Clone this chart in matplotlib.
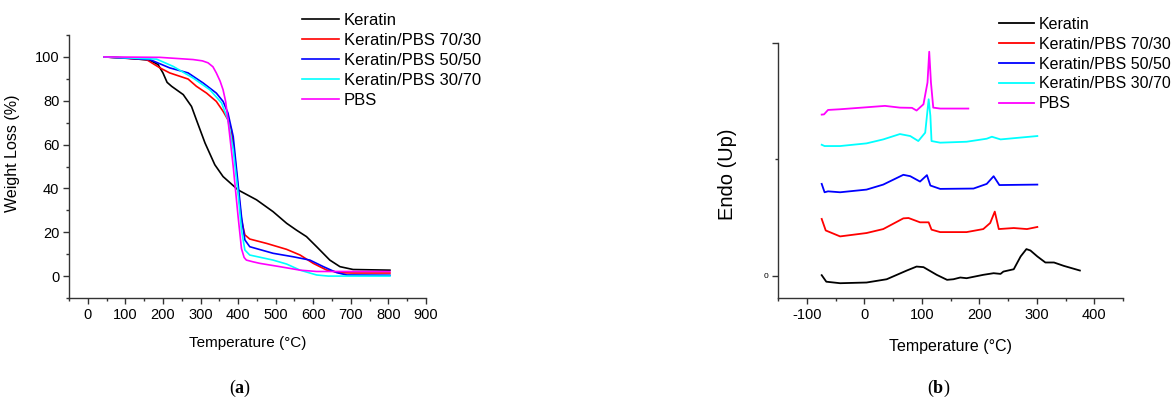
import numpy as np
import matplotlib
matplotlib.use("Agg")
import matplotlib.pyplot as plt
from matplotlib.ticker import MultipleLocator, FixedLocator

plt.rcParams['font.family'] = ['Liberation Sans', 'DejaVu Sans']
plt.rcParams['axes.unicode_minus'] = False
plt.rcParams['mathtext.fontset'] = 'custom'
plt.rcParams['mathtext.bf'] = 'Liberation Serif:bold'
plt.rcParams['mathtext.rm'] = 'Liberation Serif'

labels = ["Keratin", "Keratin/PBS 70/30", "Keratin/PBS 50/50", "Keratin/PBS 30/70", "PBS"]
colors = ["#000000", "#ff0000", "#0000ff", "#00ffff", "#ff00ff"]

# (a) TGA curves: temperature (°C), weight (%)
tga_ker_t = [43, 103, 165, 187, 200, 211, 223, 254, 276, 289, 312, 338, 360, 400, 449, 493, 529, 555, 582, 609, 644, 671, 706, 804]
tga_ker_w = [100, 99.5, 98.5, 96.5, 92.7, 88.4, 86.6, 82.8, 77.4, 71.3, 60.7, 50.8, 45.4, 39.3, 34.8, 29.4, 24.1, 21.0, 18.0, 13.4, 7.3, 4.3, 3.0, 2.7]
tga_7030_t = [43, 156, 192, 218, 267, 289, 316, 342, 360, 373, 382, 391, 400, 409, 418, 431, 476, 529, 565, 600, 635, 671, 706, 804]
tga_7030_w = [100, 98.8, 95.0, 92.7, 89.9, 86.6, 83.5, 79.7, 75.2, 71.3, 66.8, 54.6, 39.3, 25.6, 18.8, 16.9, 14.9, 12.2, 9.6, 5.8, 2.8, 1.5, 1.4, 1.4]
tga_5050_t = [43, 165, 218, 267, 307, 342, 360, 373, 387, 396, 409, 418, 431, 493, 547, 591, 627, 662, 689, 804]
tga_5050_w = [100, 98.8, 95.0, 92.7, 88.1, 83.5, 79.7, 74.4, 63.7, 48.5, 27.1, 16.5, 13.4, 10.4, 8.8, 7.3, 4.3, 1.6, 0.5, 0.4]
tga_3070_t = [43, 183, 227, 280, 325, 356, 373, 387, 400, 409, 418, 431, 493, 529, 565, 609, 640, 804]
tga_3070_w = [100, 99.0, 95.7, 90.4, 85.0, 79.0, 71.3, 57.6, 37.8, 21.0, 11.9, 9.6, 7.3, 5.5, 2.7, 0.5, 0.0, 0.0]
tga_pbs_t = [43, 192, 280, 305, 320, 333, 342, 352, 360, 367, 373, 387, 400, 409, 416, 422, 440, 458, 511, 565, 609, 804]
tga_pbs_w = [100, 99.8, 98.8, 98.2, 97.3, 95.5, 92.7, 89.0, 85.0, 79.5, 71.3, 50.0, 27.1, 12.5, 8.5, 7.3, 6.5, 5.8, 4.3, 2.7, 2.1, 2.1]

# (b) DSC curves: temperature (°C), heat flow (a.u., stacked)
dsc_ker_t = [-74, -66, -42, 4, 39, 74, 91, 103, 126, 144, 155, 167, 178, 207, 225, 237, 242, 260, 272, 282, 289, 301, 315, 330, 347, 375]
dsc_ker_h = [0.006, -0.05, -0.063, -0.057, -0.029, 0.046, 0.08, 0.075, 0.009, -0.034, -0.029, -0.014, -0.02, 0.009, 0.023, 0.017, 0.037, 0.057, 0.167, 0.23, 0.218, 0.167, 0.115, 0.115, 0.086, 0.046]
dsc_7030_t = [-74, -67, -42, 4, 33, 68, 77, 97, 112, 117, 132, 178, 207, 219, 227, 234, 260, 283, 301]
dsc_7030_h = [0.489, 0.39, 0.339, 0.368, 0.402, 0.494, 0.497, 0.46, 0.46, 0.397, 0.376, 0.376, 0.402, 0.454, 0.552, 0.402, 0.411, 0.402, 0.42]
dsc_5050_t = [-74, -69, -63, -42, 4, 33, 68, 80, 97, 109, 115, 132, 190, 213, 225, 235, 301]
dsc_5050_h = [0.79, 0.718, 0.726, 0.718, 0.741, 0.784, 0.868, 0.856, 0.81, 0.865, 0.776, 0.747, 0.75, 0.79, 0.856, 0.78, 0.784]
dsc_3070_t = [-74, -69, -42, 4, 33, 62, 80, 94, 106, 112, 115, 117, 132, 178, 213, 222, 237, 301]
dsc_3070_h = [1.126, 1.115, 1.115, 1.138, 1.172, 1.218, 1.201, 1.158, 1.23, 1.517, 1.374, 1.158, 1.144, 1.152, 1.178, 1.195, 1.172, 1.201]
dsc_pbs_t = [-74, -70, -63, -42, 4, 36, 62, 83, 91, 103, 110, 113, 116, 120, 132, 181]
dsc_pbs_h = [1.385, 1.387, 1.425, 1.431, 1.448, 1.46, 1.445, 1.443, 1.42, 1.474, 1.661, 1.925, 1.661, 1.445, 1.437, 1.437]

tga = [(tga_ker_t, tga_ker_w), (tga_7030_t, tga_7030_w), (tga_5050_t, tga_5050_w),
       (tga_3070_t, tga_3070_w), (tga_pbs_t, tga_pbs_w)]
dsc = [(dsc_ker_t, dsc_ker_h), (dsc_7030_t, dsc_7030_h), (dsc_5050_t, dsc_5050_h),
       (dsc_3070_t, dsc_3070_h), (dsc_pbs_t, dsc_pbs_h)]

fig = plt.figure(figsize=(11.73, 4.01), dpi=100)
ax1 = fig.add_axes([69 / 1173, 103 / 401, 357 / 1173, 263 / 401])
ax2 = fig.add_axes([778 / 1173, 103 / 401, 345 / 1173, 255 / 401])


def style(ax):
    for s in ["top", "right"]:
        ax.spines[s].set_visible(False)
    for s in ["left", "bottom"]:
        ax.spines[s].set_linewidth(1.0)
        ax.spines[s].set_color("#333333")
    ax.tick_params(which="major", direction="out", length=4, width=1.0, color="#333333",
                   labelsize=10.5, pad=3)
    ax.tick_params(which="minor", direction="out", length=2.5, width=1.0, color="#333333")


for (t, w), lab, c in zip(tga, labels, colors):
    ax1.plot(t, w, color=c, lw=1.2, label=lab)
ax1.set_xlim(-50, 900)
ax1.set_ylim(-10, 110)
ax1.xaxis.set_major_locator(MultipleLocator(100))
ax1.xaxis.set_minor_locator(MultipleLocator(50))
ax1.yaxis.set_major_locator(FixedLocator([0, 20, 40, 60, 80, 100]))
ax1.yaxis.set_minor_locator(FixedLocator(list(range(-10, 111, 10))))
style(ax1)
ax1.set_xlabel("Temperature (°C)", fontsize=11)
ax1.set_ylabel("Weight Loss (%)", fontsize=11.5)
ax1.xaxis.set_label_coords(0.5, -0.145)
ax1.yaxis.set_label_coords(-0.137, 0.55)
ax1.legend(loc="upper left", bbox_to_anchor=((302 - 69) / 357, (298 - 13) / 263), frameon=False,
           fontsize=12, handlelength=2.2, handletextpad=0.3, labelspacing=0.3,
           borderaxespad=0, borderpad=0)

for (t, h), lab, c in zip(dsc, labels, colors):
    ax2.plot(t, h, color=c, lw=1.3, label=lab)
ax2.set_xlim(-150, 450)
ax2.set_ylim(-0.19, 2.0)
ax2.xaxis.set_major_locator(MultipleLocator(100))
ax2.xaxis.set_minor_locator(MultipleLocator(50))
ax2.yaxis.set_major_locator(FixedLocator([0, 2]))
ax2.yaxis.set_minor_locator(FixedLocator([1]))
style(ax2)
ax2.set_yticklabels(["0", ""])
ax2.tick_params(axis="y", labelsize=6)
ax2.set_xlabel("Temperature (°C)", fontsize=11.5)
ax2.set_ylabel("Endo (Up)", fontsize=14.5)
ax2.xaxis.set_label_coords(0.5, -0.16)
ax2.yaxis.set_label_coords(-0.119, 0.486)
ax2.legend(loc="upper left", bbox_to_anchor=((999 - 778) / 345, (298 - 17) / 255), frameon=False,
           fontsize=11.5, handlelength=2.2, handletextpad=0.3, labelspacing=0.3,
           borderaxespad=0, borderpad=0)

fig.text(240 / 1173, 1 - 388 / 401, r"($\mathbf{a}$)", ha="center", va="center",
         fontsize=13, family="Liberation Serif")
fig.text(939 / 1173, 1 - 388 / 401, r"($\mathbf{b}$)", ha="center", va="center",
         fontsize=13, family="Liberation Serif")

fig.savefig("out.png", dpi=100)
